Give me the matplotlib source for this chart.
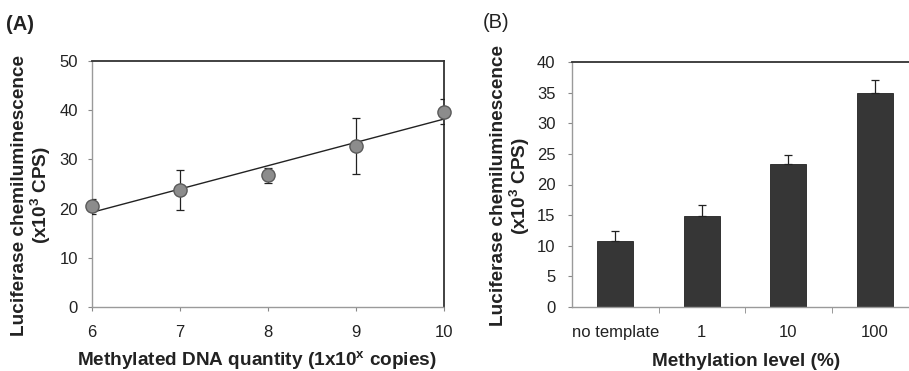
import numpy as np
import matplotlib
matplotlib.use("Agg")
import matplotlib.pyplot as plt

plt.rcParams['font.family'] = ['Liberation Sans', 'DejaVu Sans']

# Panel A data
a_x = [6, 7, 8, 9, 10]
a_y = [20.5, 23.8, 26.8, 32.8, 39.7]
a_err = [1.5, 4.1, 1.5, 5.7, 2.6]
a_xticks = [6, 7, 8, 9, 10]
a_yticks = [0, 10, 20, 30, 40, 50]

# Panel B data
b_cats = ['no template', '1', '10', '100']
b_vals = [10.8, 14.8, 23.4, 35.0]
b_err = [1.6, 1.9, 1.4, 2.0]
b_yticks = [0, 5, 10, 15, 20, 25, 30, 35, 40]

W, H = 909, 371
fig = plt.figure(figsize=(W / 100, H / 100), dpi=100)

def rect(l, t, r, b):
    return [l / W, 1 - b / H, (r - l) / W, (b - t) / H]

txt = '#222222'
LFS = 13.7

def style(ax, ypad):
    for s in ['left', 'bottom']:
        ax.spines[s].set_color('#9a9a9a')
        ax.spines[s].set_linestyle((0, (1, 1)))
        ax.spines[s].set_linewidth(1.0)
    for s in ['top', 'right']:
        ax.spines[s].set_color('#333333')
        ax.spines[s].set_linewidth(1.3)
    ax.tick_params(axis='both', direction='out', length=3, width=0.8,
                   color='#888888', labelsize=12, labelcolor=txt)
    ax.tick_params(axis='y', pad=ypad)
    ax.tick_params(axis='x', pad=10)

# ---------- Panel A ----------
axA = fig.add_axes(rect(92, 61, 444, 307))
style(axA, 7)
fit = np.polyfit(a_x, a_y, 1)
xs = np.array([a_x[0], a_x[-1]])
axA.plot(xs, np.polyval(fit, xs), color='#222222', lw=1.0, zorder=2)
axA.errorbar(a_x, a_y, yerr=a_err, fmt='none', ecolor='#222222',
             elinewidth=0.9, capsize=3, capthick=0.9, zorder=3)
axA.plot(a_x, a_y, 'o', ms=9.5, mfc='#8c8c8c', mec='#5a5a5a', mew=1.0,
         zorder=4, clip_on=False)
axA.set_xlim(6, 10)
axA.set_ylim(0, 50)
axA.set_xticks(a_xticks)
axA.set_yticks(a_yticks)
axA.set_xlabel('Methylated DNA quantity (1x10$^{\\mathregular{x}}$ copies)',
               fontsize=LFS, fontweight='bold', color=txt, va='center')
axA.xaxis.set_label_coords((257 - 92) / 352, (307 - 361) / 246)
axA.set_ylabel('Luciferase chemiluminescence\n(x10$^{\\mathregular{3}}$ CPS)',
               fontsize=LFS, fontweight='bold', color=txt, linespacing=1.05,
               va='center')
axA.yaxis.set_label_coords((32 - 92) / 352, 1 - (195 - 61) / 246)

# ---------- Panel B ----------
axB = fig.add_axes(rect(572, 62, 918, 307))
style(axB, 9)
pos = np.arange(len(b_cats)) + 0.5
axB.bar(pos, b_vals, width=0.42, color='#363636', edgecolor='#222222',
        lw=0.6, zorder=2)
axB.errorbar(pos, b_vals, yerr=[np.zeros(len(b_err)), b_err], fmt='none',
             ecolor='#222222', elinewidth=0.9, capsize=3, capthick=0.9,
             zorder=3)
axB.set_xlim(0, len(b_cats))
axB.set_ylim(0, 40)
axB.set_yticks(b_yticks)
axB.set_xticks(pos)
axB.set_xticklabels(b_cats)
axB.tick_params(axis='x', length=0, pad=13)
axB.set_xticks(np.arange(1, len(b_cats)), minor=True)
axB.tick_params(axis='x', which='minor', length=4, color='#888888', direction='out')
axB.set_xlabel('Methylation level (%)', fontsize=LFS, fontweight='bold',
               color=txt, va='center')
axB.xaxis.set_label_coords((746 - 572) / 346, (307 - 361) / 245)
axB.set_ylabel('Luciferase chemiluminescence\n(x10$^{\\mathregular{3}}$ CPS)',
               fontsize=LFS, fontweight='bold', color=txt, linespacing=1.05,
               va='center')
axB.yaxis.set_label_coords((511 - 572) / 346, 1 - (186 - 62) / 245)

fig.text(6 / W, 1 - 24 / H, '(A)', fontsize=14.5, fontweight='bold',
         color=txt, va='center', ha='left')
fig.text(483 / W, 1 - 23 / H, '(B)', fontsize=14.5, fontweight='normal',
         color=txt, va='center', ha='left')

fig.savefig('out.png', dpi=100)
